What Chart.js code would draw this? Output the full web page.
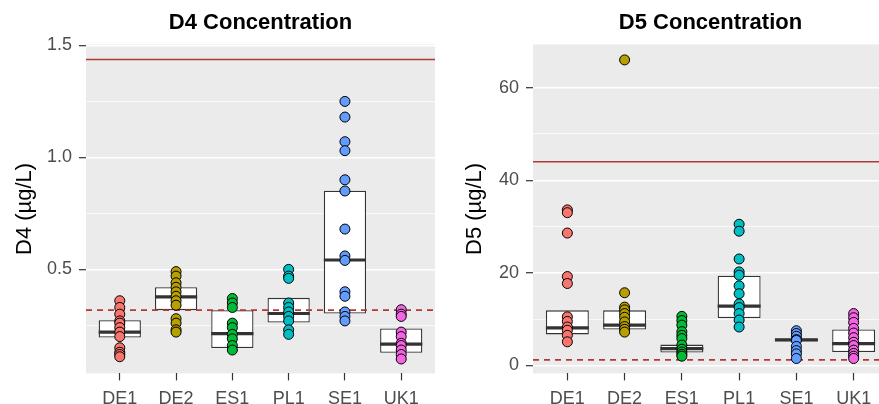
<!DOCTYPE html>
<html>
<head>
<meta charset="utf-8">
<script src="https://cdn.jsdelivr.net/npm/chart.js@4.4.1/dist/chart.umd.min.js"></script>
<style>
  html, body { margin: 0; padding: 0; background: #fff; overflow: hidden; }
  #wrap { position: relative; width: 879px; height: 404px; overflow: hidden; }
  #d4Chart { position: absolute; left: 0; top: 0; }
  #d5Chart { position: absolute; left: 440px; top: 0; }
</style>
</head>
<body>
<div id="wrap">
  <canvas id="d4Chart" width="440" height="417"></canvas>
  <canvas id="d5Chart" width="448" height="417"></canvas>
</div>
<script>
const categories = ["DE1", "DE2", "ES1", "PL1", "SE1", "UK1"];
const groupColors = ["#F8766D", "#B79F00", "#00BA38", "#00BFC4", "#619CFF", "#F564E3"];

// D4 samples (µg/L)
const d4DE1 = [0.36, 0.33, 0.30, 0.27, 0.26, 0.24, 0.22, 0.20, 0.15, 0.13, 0.12, 0.11];
const d4DE2 = [0.49, 0.47, 0.44, 0.42, 0.40, 0.38, 0.36, 0.34, 0.28, 0.26, 0.23, 0.22];
const d4ES1 = [0.37, 0.35, 0.33, 0.26, 0.24, 0.21, 0.19, 0.16, 0.14];
const d4PL1 = [0.50, 0.47, 0.46, 0.35, 0.33, 0.31, 0.29, 0.27, 0.23, 0.21];
const d4SE1 = [1.25, 1.18, 1.07, 1.03, 0.90, 0.85, 0.68, 0.56, 0.54, 0.40, 0.38, 0.31, 0.29, 0.27];
const d4UK1 = [0.32, 0.30, 0.29, 0.22, 0.20, 0.17, 0.16, 0.14, 0.12, 0.10];
const d4Q1 = [0.196, 0.318, 0.149, 0.263, 0.303, 0.128];
const d4Median = [0.22, 0.377, 0.213, 0.303, 0.542, 0.166];
const d4Q3 = [0.273, 0.42, 0.318, 0.373, 0.851, 0.236];
const d4Limit = 1.437;
const d4Dashed = 0.318;
const d4MajorTicks = [0.5, 1.0, 1.5];
const d4MinorTicks = [0.25, 0.75, 1.25];

// D5 samples (µg/L)
const d5DE1 = [33.6, 33.0, 28.6, 19.2, 17.7, 10.5, 9.5, 8.3, 7.6, 6.5, 5.1];
const d5DE2 = [66.0, 15.7, 12.6, 12.0, 11.2, 10.4, 9.4, 8.4, 7.8, 7.2];
const d5ES1 = [10.6, 9.7, 8.7, 7.3, 6.5, 5.8, 4.4, 3.5, 2.9, 2.4, 2.0];
const d5PL1 = [30.5, 29.0, 23.0, 20.2, 19.5, 17.2, 15.5, 13.3, 12.5, 11.2, 9.8, 8.3];
const d5SE1 = [7.5, 6.9, 6.3, 5.6, 5.4, 4.1, 3.2, 2.5, 1.5];
const d5UK1 = [11.2, 10.3, 9.3, 8.0, 7.0, 6.0, 5.0, 4.3, 3.3, 2.6, 2.0, 1.5];
const d5Q1 = [6.7, 7.75, 2.8, 10.25, 5.2, 2.9];
const d5Median = [8.1, 8.7, 3.65, 12.8, 5.5, 4.7];
const d5Q3 = [11.9, 11.9, 4.5, 19.4, 5.9, 7.75];
const d5Limit = 44;
const d5Dashed = 1.2;
const d5MajorTicks = [0, 20, 40, 60];
const d5MinorTicks = [10, 30, 50];

const FONT = "'Liberation Sans', Arial, sans-serif";
const X_MIN = -0.6;
const X_MAX = 5.6;

const panelBackground = {
    id: "panelBackground",
    beforeDraw(chart) {
        const { ctx, chartArea } = chart;
        ctx.save();
        ctx.fillStyle = "#EBEBEB";
        ctx.fillRect(chartArea.left, chartArea.top, chartArea.right - chartArea.left, chartArea.bottom - chartArea.top);
        ctx.restore();
    },
};

function makePanel(canvasId, cfg) {
    const datasets = [];

    cfg.samples.forEach((values, i) => {
        datasets.push({
            type: "scatter",
            data: values.map((v) => ({ x: i, y: v })),
            backgroundColor: groupColors[i],
            borderColor: "#000000",
            borderWidth: 1,
            pointRadius: 5,
            order: 0,
        });
    });

    datasets.push({
        type: "scatter",
        data: cfg.median.map((m, i) => ({ x: i, y: m })),
        pointStyle: "line",
        pointRadius: (c) => {
            const s = c.chart.scales.x;
            return ((s.getPixelForValue(1) - s.getPixelForValue(0)) * 0.75) / 2;
        },
        borderColor: "#333333",
        borderWidth: 3.2,
        order: 1,
    });

    [
        { y: cfg.limit, dash: [] },
        { y: cfg.dashed, dash: [6, 5] },
    ].forEach((ref) => {
        datasets.push({
            type: "line",
            data: [{ x: X_MIN, y: ref.y }, { x: X_MAX, y: ref.y }],
            borderColor: "#B03A35",
            borderWidth: 1.6,
            borderDash: ref.dash,
            pointRadius: 0,
            order: 2,
        });
    });

    datasets.push({
        type: "bar",
        data: cfg.q1.map((q, i) => ({ x: i, y: [q, cfg.q3[i]] })),
        backgroundColor: "#FFFFFF",
        borderColor: "#333333",
        borderWidth: 1.3,
        borderSkipped: false,
        barPercentage: 0.75,
        categoryPercentage: 1,
        order: 3,
    });

    const allTicks = cfg.major.concat(cfg.minor).sort((a, b) => a - b);
    const isMajor = (c) => c.tick && cfg.major.includes(c.tick.value);

    return new Chart(document.getElementById(canvasId), {
        type: "scatter",
        data: { datasets: datasets },
        options: {
            responsive: false,
            animation: false,
            layout: { autoPadding: false, padding: { left: 0, right: cfg.padRight, top: 0, bottom: 0 } },
            plugins: {
                legend: { display: false },
                tooltip: { enabled: false },
                title: {
                    display: true,
                    text: cfg.title,
                    fullSize: false,
                    color: "#000000",
                    font: { family: FONT, size: 22, weight: "bold" },
                    padding: { top: 10, bottom: 8 },
                },
            },
            scales: {
                x: {
                    type: "linear",
                    min: X_MIN,
                    max: X_MAX,
                    offset: false,
                    afterBuildTicks: (scale) => {
                        scale.ticks = categories.map((_, i) => ({ value: i }));
                    },
                    ticks: {
                        autoSkip: false,
                        maxRotation: 0,
                        padding: 7.5,
                        color: "#4D4D4D",
                        font: { family: FONT, size: 18 },
                        callback: (v) => categories[v],
                    },
                    grid: {
                        offset: false,
                        drawOnChartArea: false,
                        tickLength: 7,
                        tickColor: "#333333",
                        tickWidth: 1.2,
                    },
                    border: { display: false },
                },
                y: {
                    type: "linear",
                    min: cfg.yMin,
                    max: cfg.yMax,
                    afterBuildTicks: (scale) => {
                        scale.ticks = allTicks.map((v) => ({ value: v }));
                    },
                    afterFit: (scale) => {
                        scale.width = cfg.axisWidth;
                    },
                    ticks: {
                        autoSkip: false,
                        padding: 7,
                        color: "#4D4D4D",
                        font: { family: FONT, size: 18 },
                        callback: (v) => (cfg.major.includes(v) ? cfg.format(v) : ""),
                    },
                    grid: {
                        color: "#FFFFFF",
                        lineWidth: (c) => (isMajor(c) ? 1.4 : 0.7),
                        tickLength: 7,
                        tickColor: (c) => (isMajor(c) ? "#333333" : "rgba(0,0,0,0)"),
                        tickWidth: 1.2,
                    },
                    border: { display: false },
                    title: {
                        display: true,
                        text: cfg.yTitle,
                        color: "#000000",
                        font: { family: FONT, size: 22 },
                        padding: { top: cfg.titlePad, bottom: 0 },
                    },
                },
            },
        },
        plugins: [panelBackground],
    });
}

makePanel("d4Chart", {
    title: "D4 Concentration",
    yTitle: "D4 (µg/L)",
    samples: [d4DE1, d4DE2, d4ES1, d4PL1, d4SE1, d4UK1],
    q1: d4Q1,
    median: d4Median,
    q3: d4Q3,
    limit: d4Limit,
    dashed: d4Dashed,
    major: d4MajorTicks,
    minor: d4MinorTicks,
    yMin: 0.0356,
    yMax: 1.5045,
    format: (v) => v.toFixed(1),
    axisWidth: 86,
    titlePad: 12,
    padRight: 5,
});

makePanel("d5Chart", {
    title: "D5 Concentration",
    yTitle: "D5 (µg/L)",
    samples: [d5DE1, d5DE2, d5ES1, d5PL1, d5SE1, d5UK1],
    q1: d5Q1,
    median: d5Median,
    q3: d5Q3,
    limit: d5Limit,
    dashed: d5Dashed,
    major: d5MajorTicks,
    minor: d5MinorTicks,
    yMin: -1.72,
    yMax: 69.35,
    format: (v) => String(v),
    axisWidth: 93,
    titlePad: 22,
    padRight: 0,
});
</script>
</body>
</html>
